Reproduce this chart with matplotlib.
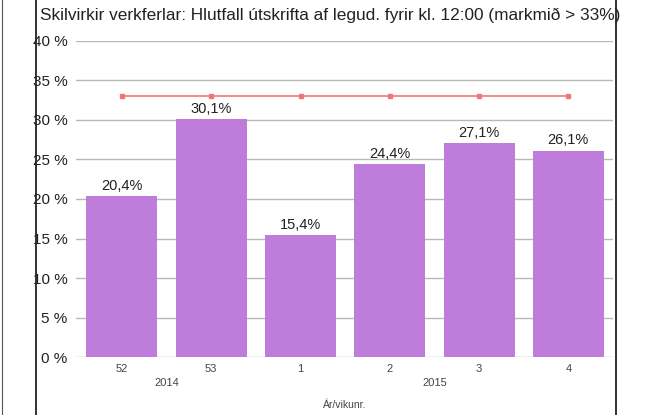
import matplotlib.pyplot as plt
from matplotlib.lines import Line2D
from matplotlib.ticker import FuncFormatter

weeks = ["52", "53", "1", "2", "3", "4"]
years = ["2014", "2015"]
year_span = [(0, 1), (2, 5)]
values = [20.4, 30.1, 15.4, 24.4, 27.1, 26.1]
target = [33, 33, 33, 33, 33, 33]

plt.rcParams['font.family'] = ['Liberation Sans', 'DejaVu Sans']

fig = plt.figure(figsize=(6.45, 4.15), dpi=100)
ax = fig.add_axes([0.1178, 0.1386, 0.8326, 0.7638])

x = list(range(len(weeks)))
ax.bar(x, values, width=0.795, color='#bf7ddb', zorder=2)
ax.plot(x, target, color='#f07878', lw=1.2, marker='s', ms=3.5, zorder=3)

for xi, v in zip(x, values):
    ax.text(xi, v + 0.4, f"{v:.1f}%".replace('.', ','), ha='center', va='bottom',
            fontsize=10.5, color='#222222')

ax.set_xlim(-0.515, 5.5)
ax.set_ylim(0, 40)
ax.set_yticks(range(0, 41, 5))
ax.yaxis.set_major_formatter(FuncFormatter(lambda v, p: f"{int(v)} %"))
ax.grid(axis='y', color='#b8b8b8', lw=1, zorder=0)
ax.set_xticks(x)
ax.set_xticklabels(weeks, fontsize=8, color='#444444')
ax.tick_params(axis='y', length=0, pad=6, labelsize=11, labelcolor='#222222')
ax.tick_params(axis='x', length=0, pad=5)
for s in ax.spines.values():
    s.set_visible(False)

for name, (a, b) in zip(years, year_span):
    ax.text((a + b) / 2, -0.082, name, transform=ax.get_xaxis_transform(),
            ha='center', va='center', fontsize=8, color='#444444')
ax.text(0.5, -0.15, "Ár/vikunr.", transform=ax.transAxes, ha='center',
        va='center', fontsize=7.5, color='#444444')

fig.text(0.512, 0.963, "Skilvirkir verkferlar: Hlutfall útskrifta af legud. fyrir kl. 12:00 (markmið > 33%)",
         ha='center', va='center', fontsize=12.4, color='#222222')

# outer frame lines
for fx in (35.5 / 645, 616 / 645):
    fig.add_artist(Line2D([fx, fx], [0, 1], transform=fig.transFigure, color='#222222', lw=1.3))
fig.add_artist(Line2D([2 / 645, 2 / 645], [0, 1], transform=fig.transFigure, color='#555555', lw=0.8))

fig.savefig("out.png", dpi=100)
